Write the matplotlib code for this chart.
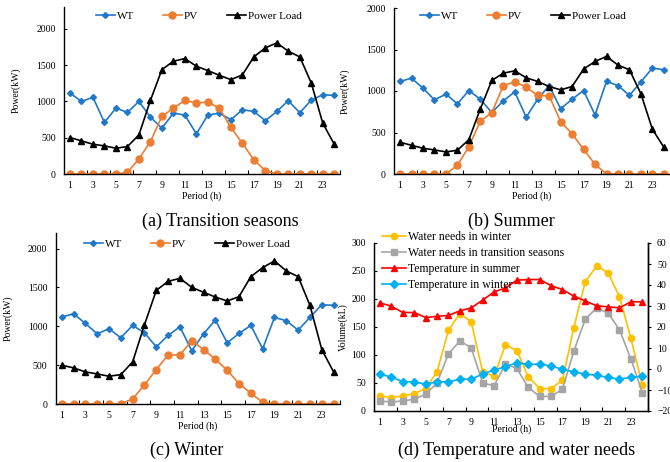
import numpy as np
import matplotlib
matplotlib.use("Agg")
from matplotlib import pyplot as plt

plt.rcParams['font.family'] = ['Liberation Serif', 'DejaVu Serif']

hours = list(range(1, 25))

# (a) transition seasons
wt_a = [1115, 1000, 1055, 710, 908, 848, 1000, 783, 631, 839, 811, 553,
        811, 839, 747, 885, 862, 733, 862, 1009, 843, 1018, 1092, 1083]
pv_a = [0, 0, 0, 0, 0, 23, 207, 447, 793, 908, 1014, 977,
        991, 908, 641, 424, 194, 46, 0, 0, 0, 0, 0, 0]
load_a = [502, 456, 410, 387, 355, 378, 539, 1014, 1438, 1553, 1590, 1484,
          1424, 1359, 1300, 1364, 1613, 1737, 1806, 1691, 1613, 1253, 700, 410]

# (b) summer
wt_b = [1115, 1155, 1034, 893, 962, 845, 1006, 901, 740, 881, 990, 684,
        901, 1066, 785, 901, 1006, 712, 1115, 1066, 946, 1111, 1276, 1256]
pv_b = [0, 0, 0, 0, 0, 105, 330, 636, 740, 1062, 1111, 1046,
        946, 942, 632, 483, 298, 117, 0, 0, 0, 0, 0, 0]
load_b = [382, 346, 310, 290, 266, 286, 414, 785, 1127, 1215, 1243, 1159,
          1115, 1054, 1014, 1054, 1264, 1356, 1417, 1312, 1256, 966, 539, 322]

# (c) winter
wt_c = [1118, 1161, 1037, 903, 968, 852, 1011, 916, 735, 882, 994, 684,
        903, 1080, 787, 908, 1011, 710, 1114, 1071, 951, 1114, 1277, 1269]
pv_c = [0, 0, 0, 0, 0, 0, 65, 245, 443, 632, 632, 813,
        701, 576, 434, 262, 138, 22, 0, 0, 0, 0, 0, 0]
load_c = [499, 465, 413, 387, 357, 378, 542, 1019, 1462, 1578, 1617, 1501,
          1437, 1376, 1325, 1381, 1639, 1755, 1841, 1712, 1639, 1269, 701, 413]

# (d) temperature and water needs
water_winter = [27, 24, 27, 31, 40, 70, 144, 174, 159, 70, 62, 118,
                108, 61, 40, 40, 55, 149, 231, 259, 247, 204, 130, 46]
water_trans = [18, 16, 18, 21, 30, 50, 102, 125, 113, 50, 45, 84,
               76, 42, 26, 26, 39, 107, 164, 184, 175, 145, 93, 33]
temp_summer = [31.5, 29.9, 26.9, 26.9, 24.5, 25.1, 25.5, 27.7, 29.1, 32.8, 36.7, 38.6,
               42.3, 42.6, 42.6, 39.7, 37.8, 34.7, 32.4, 30.1, 29.6, 29.1, 32.0, 32.0]
temp_winter = [-2.6, -3.7, -6.1, -6.1, -7.2, -6.1, -6.1, -4.9, -4.8, -2.4, -0.5, 1.1,
               3.0, 2.2, 2.3, 1.5, -0.2, -1.3, -2.4, -3.0, -4.0, -4.8, -4.0, -3.4]

W, H = 670, 462
fig = plt.figure(figsize=(W / 100, H / 100), dpi=100)


def box(l, t, r, b):
    return [l / W, 1 - b / H, (r - l) / W, (b - t) / H]


def style(ax, right=False):
    ax.spines['top'].set_visible(False)
    if not right:
        ax.spines['right'].set_visible(False)
    for s in ax.spines.values():
        s.set_linewidth(1.0)
    ax.set_xticks(range(1, 25, 2))
    ax.set_xticks(np.arange(2.5, 25, 2), minor=True)
    ax.tick_params(axis='x', which='major', length=0, labelsize=7, pad=5)
    ax.tick_params(axis='x', which='minor', direction='in', length=3, width=0.8)
    ax.tick_params(axis='y', direction='in', length=2.5, width=0.8, labelsize=7, pad=6)


def power_panel(rect, wt, pv, load, ymax, leg_xy, ylab_x):
    ax = fig.add_axes(box(*rect))
    ax.plot(hours, wt, color='#1f78c8', marker='D', ms=3, lw=1.2, label='WT')
    ax.plot(hours, pv, color='#ed7d31', marker='o', ms=5, lw=1.2, label='PV')
    ax.plot(hours, load, color='black', marker='^', ms=5, lw=1.2, label='Power Load')
    ax.set_xlim(0.5, 24.5)
    ax.set_ylim(0, ymax)
    ax.set_yticks(range(0, 2001, 500))
    style(ax)
    ax.legend(loc='center', bbox_to_anchor=(leg_xy[0] / W, 1 - leg_xy[1] / H),
              bbox_transform=fig.transFigure, ncol=3, frameon=False, fontsize=8,
              handlelength=1.7, handletextpad=0.2, columnspacing=2.6)
    ax.set_ylabel('Power(kW)', fontsize=7)
    ax.yaxis.set_label_coords((ylab_x - rect[0]) / (rect[2] - rect[0]), 0.5)
    ax.set_xlabel('Period (h)', fontsize=7, labelpad=1)
    return ax


power_panel((64.25, 7, 340, 174), wt_a, pv_a, load_a, 2300, (199, 16), 21)
power_panel((394.3, 8, 669.6, 174), wt_b, pv_b, load_b, 2000, (523, 16), 350)
power_panel((55.8, 233, 339.5, 404), wt_c, pv_c, load_c, 2200, (187, 244), 13)

# panel d
rect = (374.3, 243, 648, 411)
axd = fig.add_axes(box(*rect))
axt = axd.twinx()
axd.plot(hours, water_winter, color='#ffc000', marker='o', ms=4.5, lw=1.2,
         label='Water needs in winter')
axd.plot(hours, water_trans, color='#a5a5a5', marker='s', ms=4, lw=1.2,
         label='Water needs in transition seasons')
axt.plot(hours, temp_summer, color='#ff0000', marker='^', ms=5, lw=1.2,
         label='Temperature in summer')
axt.plot(hours, temp_winter, color='#00b0f0', marker='D', ms=4, lw=1.2,
         label='Temperature in winter')
axd.set_xlim(0.5, 24.34)
axd.set_ylim(0, 300)
axt.set_ylim(-20, 60)
axd.set_yticks(range(0, 301, 50))
axt.set_yticks(range(-20, 61, 10))
style(axd, right=True)
axt.spines['top'].set_visible(False)
axt.spines['right'].set_linewidth(1.0)
axt.tick_params(axis='y', direction='out', length=2.5, width=0.8, labelsize=7, pad=4)
axd.set_ylabel('Volume(kL)', fontsize=7)
axd.yaxis.set_label_coords((348 - rect[0]) / (rect[2] - rect[0]), 0.5)
axd.set_xlabel('Period (h)', fontsize=7, labelpad=-2)
h1, l1 = axd.get_legend_handles_labels()
h2, l2 = axt.get_legend_handles_labels()
axt.legend(h1 + h2, l1 + l2, loc='upper left',
           bbox_to_anchor=(382 / W, 1 - 231 / H), bbox_transform=fig.transFigure,
           frameon=False, fontsize=8.5, handlelength=2.0, handletextpad=0.2,
           labelspacing=0.33, borderpad=0, borderaxespad=0)

# captions
fig.text(220 / W, 1 - 221 / H, '(a) Transition seasons', fontsize=13, ha='center', va='center')
fig.text(511 / W, 1 - 221 / H, '(b) Summer', fontsize=13, ha='center', va='center')
fig.text(187 / W, 1 - 450 / H, '(c) Winter', fontsize=13, ha='center', va='center')
fig.text(517 / W, 1 - 450 / H, '(d) Temperature and water needs', fontsize=13,
         ha='center', va='center')

fig.savefig('out.png', dpi=100)
